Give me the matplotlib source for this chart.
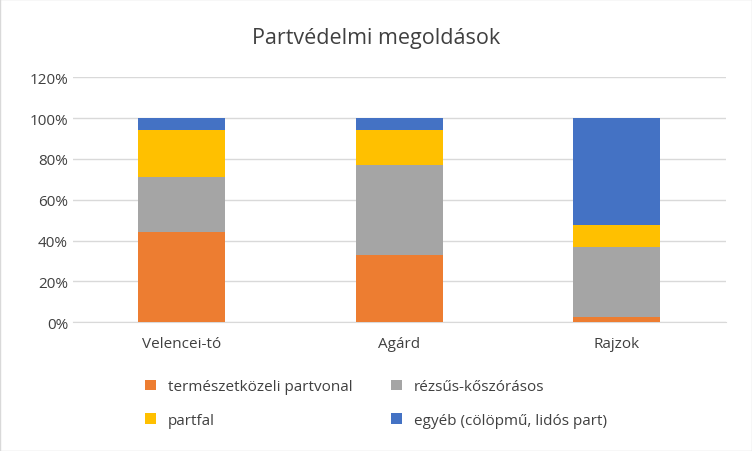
import numpy as np
import matplotlib.pyplot as plt

categories = ['Velencei-tó', 'Agárd', 'Rajzok']
termeszetkozeli = [44, 33, 2.5]
rezsu = [27, 44, 34.5]
partfal = [23, 17, 10.5]
egyeb = [6, 6, 52.5]

series = [
    ('természetközeli partvonal', termeszetkozeli, '#ED7D31'),
    ('rézsűs-kőszórásos', rezsu, '#A5A5A5'),
    ('partfal', partfal, '#FFC000'),
    ('egyéb (cölöpmű, lidós part)', egyeb, '#4472C4'),
]

plt.rcParams['font.family'] = 'Open Sans'
fig = plt.figure(figsize=(7.52, 4.52), dpi=100)
fig.patches.append(plt.Rectangle((0, 0), 1, 1, transform=fig.transFigure,
                                 fill=False, edgecolor='#D9D9D9', lw=1))
ax = fig.add_axes([0.097, 0.285, 0.868, 0.542])

x = np.arange(len(categories))
bottom = np.zeros(len(categories))
handles = []
for label, vals, color in series:
    h = ax.bar(x, vals, 0.4, bottom=bottom, color=color, label=label, zorder=3)
    handles.append(h)
    bottom += np.array(vals)

ax.set_ylim(0, 120)
ax.set_yticks(range(0, 121, 20))
ax.set_yticklabels([f'{v}%' for v in range(0, 121, 20)])
ax.set_xlim(-0.5, 2.5)
ax.set_xticks(x)
ax.set_xticklabels(categories)
ax.grid(axis='y', color='#D9D9D9', lw=1, zorder=0)
for s in ['top', 'right', 'left']:
    ax.spines[s].set_visible(False)
ax.spines['bottom'].set_color('#D9D9D9')
ax.tick_params(length=0, labelsize=11, colors='#404040')
ax.tick_params(axis='x', pad=10)

fig.text(0.5, 0.915, 'Partvédelmi megoldások', ha='center', va='center',
         fontsize=15.5, color='#404040')

# legend fills column-wise, so reorder to get row-wise layout
order = [0, 2, 1, 3]
fig.legend(handles=[handles[i] for i in order],
           labels=[series[i][0] for i in order],
           loc='center', bbox_to_anchor=(0.5, 0.105), ncol=2,
           frameon=False, fontsize=11, handlelength=0.7, handleheight=0.7,
           columnspacing=2.5, labelspacing=1.2, labelcolor='#404040')

fig.savefig('out.png', dpi=100)
